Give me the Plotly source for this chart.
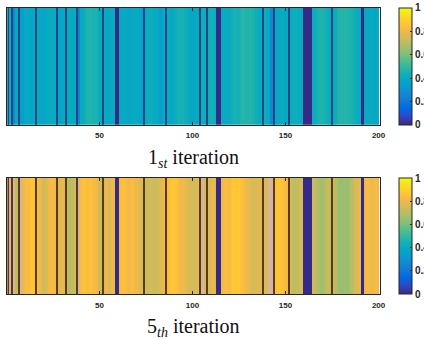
import plotly.graph_objects as go

# ---------------- data ----------------
columns = list(range(1, 201))

# per-column values, 1st iteration (parula scale 0..1)
values_1st = [
    0.40, 0.42, 0.40, 0.25, 0.40, 0.40, 0.40, 0.35, 0.35, 0.39, 0.40, 0.40, 0.38, 0.38, 0.40, 0.40, 0.40, 0.39, 0.37, 0.37,
    0.39, 0.40, 0.40, 0.41, 0.40, 0.40, 0.40, 0.38, 0.36, 0.39, 0.40, 0.40, 0.40, 0.41, 0.41, 0.40, 0.40, 0.40, 0.25, 0.40,
    0.41, 0.42, 0.45, 0.46, 0.47, 0.46, 0.45, 0.46, 0.44, 0.42, 0.40, 0.40, 0.40, 0.39, 0.40, 0.41, 0.40, 0.39, 0.00, 0.00,
    0.39, 0.39, 0.40, 0.40, 0.39, 0.38, 0.39, 0.40, 0.40, 0.40, 0.39, 0.38, 0.35, 0.40, 0.40, 0.41, 0.42, 0.42, 0.41, 0.40,
    0.40, 0.36, 0.35, 0.39, 0.40, 0.40, 0.40, 0.39, 0.39, 0.40, 0.42, 0.44, 0.45, 0.44, 0.45, 0.43, 0.42, 0.40, 0.40, 0.39,
    0.39, 0.40, 0.40, 0.40, 0.42, 0.43, 0.42, 0.40, 0.42, 0.44, 0.44, 0.42, 0.00, 0.00, 0.00, 0.40, 0.40, 0.41, 0.40, 0.41,
    0.43, 0.44, 0.45, 0.44, 0.44, 0.47, 0.48, 0.48, 0.46, 0.47, 0.48, 0.46, 0.45, 0.43, 0.42, 0.41, 0.40, 0.40, 0.42, 0.41,
    0.40, 0.25, 0.25, 0.40, 0.39, 0.40, 0.40, 0.41, 0.40, 0.39, 0.40, 0.40, 0.41, 0.42, 0.42, 0.43, 0.42, 0.41, 0.40, 0.00,
    0.00, 0.00, 0.00, 0.00, 0.41, 0.42, 0.44, 0.46, 0.47, 0.46, 0.45, 0.44, 0.42, 0.41, 0.40, 0.41, 0.43, 0.46, 0.47, 0.48,
    0.47, 0.48, 0.47, 0.46, 0.47, 0.45, 0.44, 0.42, 0.41, 0.40, 0.00, 0.00, 0.39, 0.40, 0.40, 0.41, 0.40, 0.39, 0.40, 0.40,
]

# per-column values, 5th iteration
values_5th = [
    0.78, 0.78, 0.78, 0.76, 0.72, 0.71, 0.73, 0.78, 0.80, 0.82, 0.84, 0.83, 0.86, 0.87, 0.85, 0.83, 0.83, 0.81, 0.76, 0.74,
    0.75, 0.78, 0.81, 0.83, 0.82, 0.81, 0.81, 0.76, 0.78, 0.80, 0.78, 0.76, 0.71, 0.70, 0.72, 0.71, 0.74, 0.78, 0.78, 0.83,
    0.85, 0.85, 0.84, 0.83, 0.85, 0.84, 0.83, 0.82, 0.80, 0.75, 0.74, 0.78, 0.78, 0.80, 0.76, 0.78, 0.81, 0.80, 0.00, 0.00,
    0.83, 0.84, 0.85, 0.84, 0.82, 0.81, 0.83, 0.84, 0.81, 0.80, 0.81, 0.78, 0.76, 0.76, 0.74, 0.73, 0.75, 0.76, 0.74, 0.73,
    0.75, 0.76, 0.78, 0.80, 0.81, 0.81, 0.83, 0.86, 0.87, 0.87, 0.86, 0.85, 0.82, 0.81, 0.81, 0.80, 0.78, 0.76, 0.75, 0.76,
    0.75, 0.76, 0.78, 0.78, 0.78, 0.78, 0.76, 0.78, 0.76, 0.78, 0.80, 0.78, 0.00, 0.00, 0.00, 0.81, 0.83, 0.84, 0.82, 0.83,
    0.85, 0.87, 0.87, 0.86, 0.87, 0.85, 0.84, 0.82, 0.81, 0.80, 0.78, 0.76, 0.75, 0.77, 0.79, 0.78, 0.76, 0.78, 0.76, 0.75,
    0.78, 0.78, 0.78, 0.78, 0.85, 0.86, 0.87, 0.85, 0.84, 0.83, 0.81, 0.78, 0.74, 0.72, 0.71, 0.73, 0.72, 0.74, 0.76, 0.00,
    0.00, 0.00, 0.00, 0.00, 0.74, 0.72, 0.70, 0.68, 0.66, 0.67, 0.69, 0.71, 0.73, 0.72, 0.72, 0.72, 0.70, 0.67, 0.65, 0.64,
    0.65, 0.66, 0.64, 0.66, 0.68, 0.70, 0.73, 0.76, 0.78, 0.80, 0.00, 0.00, 0.81, 0.83, 0.82, 0.80, 0.81, 0.82, 0.83, 0.81,
]

# columns drawn as thin dark lines (both iterations)
dark_columns = [1, 3, 7, 16, 27, 32, 38, 52, 74, 86, 104, 108, 138, 144, 152, 175]
# columns drawn pale (5th iteration)
pale_columns_5th = [2, 4, 8, 39, 105, 106, 141, 142, 143]

panel_titles = ["1<sub><i>st</i></sub> iteration", "5<sub><i>th</i></sub> iteration"]
x_ticks = [50, 100, 150, 200]
cbar_ticks = [0, 0.2, 0.4, 0.6, 0.8, 1]
cbar_labels = ["0", "0.2", "0.4", "0.6", "0.8", "1"]

# ---------------- styling ----------------
parula_rgb = [
    (0.2081, 0.1663, 0.5292), (0.2116, 0.1898, 0.5777), (0.2123, 0.2138, 0.6270), (0.2081, 0.2386, 0.6771),
    (0.1959, 0.2645, 0.7279), (0.1707, 0.2919, 0.7792), (0.1253, 0.3242, 0.8303), (0.0591, 0.3598, 0.8683),
    (0.0117, 0.3875, 0.8820), (0.0060, 0.4086, 0.8828), (0.0165, 0.4266, 0.8786), (0.0329, 0.4430, 0.8720),
    (0.0498, 0.4586, 0.8641), (0.0629, 0.4737, 0.8554), (0.0723, 0.4887, 0.8467), (0.0779, 0.5040, 0.8384),
    (0.0793, 0.5200, 0.8312), (0.0749, 0.5375, 0.8263), (0.0641, 0.5570, 0.8240), (0.0488, 0.5772, 0.8228),
    (0.0343, 0.5966, 0.8199), (0.0265, 0.6137, 0.8135), (0.0239, 0.6287, 0.8038), (0.0231, 0.6418, 0.7913),
    (0.0228, 0.6535, 0.7768), (0.0267, 0.6642, 0.7607), (0.0384, 0.6743, 0.7436), (0.0590, 0.6838, 0.7254),
    (0.0843, 0.6928, 0.7062), (0.1133, 0.7015, 0.6859), (0.1453, 0.7098, 0.6646), (0.1801, 0.7177, 0.6424),
    (0.2178, 0.7250, 0.6193), (0.2586, 0.7317, 0.5954), (0.3022, 0.7376, 0.5712), (0.3482, 0.7424, 0.5473),
    (0.3953, 0.7459, 0.5244), (0.4420, 0.7481, 0.5033), (0.4871, 0.7491, 0.4840), (0.5300, 0.7491, 0.4661),
    (0.5709, 0.7485, 0.4494), (0.6099, 0.7473, 0.4337), (0.6473, 0.7456, 0.4188), (0.6834, 0.7435, 0.4044),
    (0.7184, 0.7411, 0.3905), (0.7525, 0.7384, 0.3768), (0.7858, 0.7356, 0.3633), (0.8185, 0.7327, 0.3498),
    (0.8507, 0.7299, 0.3360), (0.8824, 0.7274, 0.3217), (0.9139, 0.7258, 0.3063), (0.9450, 0.7261, 0.2886),
    (0.9739, 0.7314, 0.2666), (0.9938, 0.7455, 0.2403), (0.9990, 0.7653, 0.2164), (0.9955, 0.7861, 0.1967),
    (0.9880, 0.8066, 0.1794), (0.9789, 0.8271, 0.1633), (0.9697, 0.8481, 0.1475), (0.9626, 0.8705, 0.1309),
    (0.9589, 0.8949, 0.1132), (0.9598, 0.9218, 0.0948), (0.9661, 0.9514, 0.0755), (0.9763, 0.9831, 0.0538),
]
n = len(parula_rgb)
parula = [[i / (n - 1), "rgb(%d,%d,%d)" % tuple(round(c * 255) for c in rgb)] for i, rgb in enumerate(parula_rgb)]

W, H = 424, 340
x0_px, x1_px = 7.3, 379.5
panels_px = [(8, 124.7), (178, 294)]          # top / bottom edge of each strip
title_px = [158, 327]
cbar_x_px = 398.5
mark_colors = [("#1d4884", "#3d8fd6"), ("#5a3a1a", "#d7b49d")]
axis_color = "#262626"
tick_font = dict(family="Liberation Sans, Arial", size=8, color=axis_color, weight="bold")

fig = go.Figure()
for k, vals in enumerate([values_1st, values_5th]):
    xa = "x" if k == 0 else "x2"
    ya = "y" if k == 0 else "y2"
    top_px, bot_px = panels_px[k]
    fig.add_trace(go.Heatmap(
        x=columns, y=[0], z=[vals], zmin=0, zmax=1, colorscale=parula,
        xaxis=xa, yaxis=ya, hoverinfo="skip",
        colorbar=dict(
            thickness=13, thicknessmode="pixels",
            len=(bot_px - top_px) / H, lenmode="fraction",
            x=cbar_x_px / W, xanchor="left",
            y=1 - (top_px + bot_px) / 2 / H, yanchor="middle",
            xpad=0, ypad=0, outlinewidth=1, outlinecolor=axis_color,
            tickvals=cbar_ticks, ticktext=cbar_labels,
            ticks="inside", ticklen=2, tickcolor=axis_color,
            tickfont=dict(family="Liberation Sans, Arial", size=10, color=axis_color, weight="bold"),
        ),
    ))
    # overlay marks: 1 = dark line, 2 = pale column
    marks = [None] * len(columns)
    for c in dark_columns:
        marks[c - 1] = 1
    if k == 1:
        for c in pale_columns_5th:
            marks[c - 1] = 2
    dark_c, pale_c = mark_colors[k]
    fig.add_trace(go.Heatmap(
        x=columns, y=[0], z=[marks], zmin=1, zmax=2,
        colorscale=[[0, dark_c], [0.5, dark_c], [0.5, pale_c], [1, pale_c]],
        showscale=False, xaxis=xa, yaxis=ya, hoverinfo="skip",
    ))

    xkey = "xaxis" if k == 0 else "xaxis2"
    ykey = "yaxis" if k == 0 else "yaxis2"
    fig.update_layout(**{
        xkey: dict(
            domain=[x0_px / W, x1_px / W], range=[0.5, 200.5],
            tickvals=x_ticks, ticks="inside", ticklen=3, tickcolor=axis_color,
            mirror="allticks", showline=True, linecolor=axis_color, linewidth=1,
            showgrid=False, zeroline=False, tickfont=tick_font,
            ticklabelstandoff=3, anchor=ya, automargin=False,
        ),
        ykey: dict(
            domain=[1 - bot_px / H, 1 - top_px / H], range=[-0.5, 0.5],
            showticklabels=False, ticks="", showgrid=False, zeroline=False,
            showline=True, mirror=True, linecolor=axis_color, linewidth=1, anchor=xa,
            automargin=False,
        ),
    })
    fig.add_annotation(
        text=panel_titles[k], xref="paper", yref="paper",
        x=(x0_px + x1_px) / 2 / W, y=1 - title_px[k] / H,
        xanchor="center", yanchor="middle", showarrow=False,
        font=dict(family="Liberation Serif, Times New Roman", size=20, color="#111111"),
    )

fig.update_layout(
    width=W, height=H, margin=dict(l=0, r=0, t=0, b=0, autoexpand=False),
    paper_bgcolor="white", plot_bgcolor="white", showlegend=False,
)

fig.write_html(
    "out.html",
    config={"displayModeBar": False},
    post_script="document.body.style.margin='0px'; document.body.style.overflow='hidden';",
)
